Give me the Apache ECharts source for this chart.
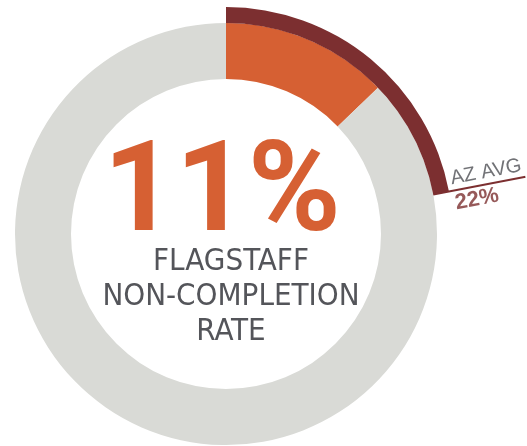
<!DOCTYPE html>
<html>
<head>
<meta charset="utf-8">
<script src="https://cdn.jsdelivr.net/npm/echarts@6/dist/echarts.min.js"></script>
<style>
  html, body { margin: 0; padding: 0; background: #fff; }
  #donut-chart { width: 527px; height: 446px; }
</style>
</head>
<body>
<div id="donut-chart"></div>
<script>
// values (percent); the drawn orange slice is a bit
// bigger than its 11% label, so the slice follows the picture
var rateNames = ['Flagstaff', 'rest'];
var flagstaffSlice = [12.8, 87.2];
var azAvgRate = [22, 78];
var rateLabel = '11%';
var azLabel = 'AZ AVG';
var azValueLabel = '22%';
var captionLines = ['FLAGSTAFF', 'NON-COMPLETION', 'RATE'];

// layout (pixels)
var CX = 226, CY = 234;
var R_IN = 155, R_OUT = 211, R_AVG = 227, R_TICK = 305, R_TEXT = 231;

var myChart = echarts.init(document.getElementById('donut-chart'));

// angle of the AZ average marker, used to tilt its label
var avgAngle = 90 - azAvgRate[0] * 3.6;

var option = {
  animation: false,
  title: [{
    text: rateLabel,
    left: CX - 9,
    top: 130,
    textAlign: 'center',
    textStyle: {
      fontFamily: 'Roboto',
      fontWeight: 'bold',
      fontSize: 126,
      lineHeight: 126,
      color: '#d66033'
    }
  }, {
    text: captionLines.join('\n'),
    left: CX,
    top: 239,
    textAlign: 'center',
    textStyle: {
      fontFamily: '"DejaVu Sans Condensed", "DejaVu Sans", sans-serif',
      fontWeight: 'normal',
      fontSize: 31,
      lineHeight: 35,
      color: '#54555a'
    }
  }],
  polar: {
    center: [CX, CY],
    radius: R_TICK
  },
  angleAxis: {
    type: 'value',
    min: 0,
    max: 100,
    startAngle: 90,
    clockwise: true,
    show: false
  },
  radiusAxis: {
    type: 'value',
    min: 0,
    max: R_TICK,
    show: false
  },
  series: [{
    name: 'flagstaff',
    type: 'pie',
    silent: true,
    center: [CX, CY],
    radius: [R_IN, R_OUT],
    startAngle: 90,
    clockwise: true,
    label: { show: false },
    labelLine: { show: false },
    itemStyle: { borderWidth: 0 },
    data: [
      { name: rateNames[0], value: flagstaffSlice[0], itemStyle: { color: '#d66033' } },
      { name: rateNames[1], value: flagstaffSlice[1], itemStyle: { color: '#d9dad6' } }
    ]
  }, {
    name: 'az avg',
    type: 'pie',
    silent: true,
    center: [CX, CY],
    radius: [R_OUT, R_AVG],
    startAngle: 90,
    clockwise: true,
    label: { show: false },
    labelLine: { show: false },
    itemStyle: { borderWidth: 0 },
    data: [
      { name: 'AZ', value: azAvgRate[0], itemStyle: { color: '#7c2f30' } },
      { name: 'rest', value: azAvgRate[1], itemStyle: { color: 'rgba(0,0,0,0)' } }
    ]
  }, {
    // marker line sticking out at the end of the AZ arc
    name: 'az tick',
    type: 'line',
    coordinateSystem: 'polar',
    silent: true,
    symbol: 'none',
    lineStyle: { color: '#7c2f30', width: 2 },
    data: [[R_OUT, azAvgRate[0]], [R_TICK, azAvgRate[0]]]
  }, {
    name: 'az text',
    type: 'scatter',
    coordinateSystem: 'polar',
    silent: true,
    symbolSize: 0,
    data: [[R_TEXT, azAvgRate[0]]],
    label: {
      show: true,
      position: [0, 0],
      align: 'left',
      verticalAlign: 'middle',
      rotate: avgAngle,
      formatter: '{a|' + azLabel + '}\n{b|' + azValueLabel + '}',
      rich: {
        a: {
          fontFamily: '"Liberation Sans", sans-serif',
          fontSize: 20,
          lineHeight: 26,
          color: '#4e4f54'
        },
        b: {
          fontFamily: '"Liberation Sans", sans-serif',
          fontWeight: 'bold',
          fontSize: 22,
          lineHeight: 24,
          color: '#7c2f30'
        }
      }
    }
  }]
};

myChart.setOption(option);
</script>
</body>
</html>
